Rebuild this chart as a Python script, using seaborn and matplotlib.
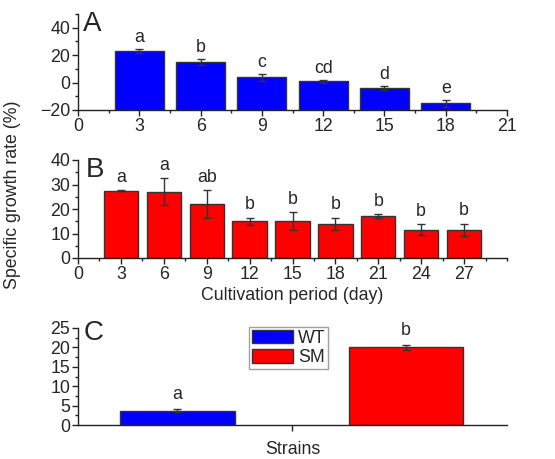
import matplotlib
matplotlib.use("Agg")
import matplotlib.pyplot as plt
from matplotlib.ticker import MultipleLocator
from matplotlib.patches import Patch
import seaborn as sns

# Panel A: wild type, specific growth rate over time
days_a = [3, 6, 9, 12, 15, 18]
rate_a = [23, 15, 4, 1, -4, -15]
err_a = [1.5, 2.5, 2.5, 1.0, 1.5, 2.5]
letters_a = ["a", "b", "c", "cd", "d", "e"]

# Panel B: mutant, specific growth rate over time
days_b = [3, 6, 9, 12, 15, 18, 21, 24, 27]
rate_b = [27.5, 27, 22, 15, 15, 14, 17, 11.5, 11.5]
err_b = [0.3, 5.5, 5.8, 1.5, 3.7, 2.5, 0.8, 2.3, 2.5]
letters_b = ["a", "a", "ab", "b", "b", "b", "b", "b", "b"]

# Panel C: strains compared
strains = ["WT", "SM"]
rate_c = [3.7, 20]
err_c = [0.4, 0.6]
letters_c = ["a", "b"]
strain_colors = ["#0000ff", "#ff0000"]

sns.set_style("ticks")
plt.rcParams['font.family'] = ['Liberation Sans', 'DejaVu Sans']
plt.rcParams['axes.linewidth'] = 1.0
plt.rcParams['axes.edgecolor'] = '#222222'

EDGE = '#333333'
FS = 12.8

fig = plt.figure(figsize=(5.55, 4.59), dpi=100)
W, H = 555, 459


def px_axes(left, top, right, bottom):
    return fig.add_axes([left / W, 1 - bottom / H, (right - left) / W, (bottom - top) / H])


def style_axis(ax):
    sns.despine(ax=ax)
    ax.tick_params(which='major', direction='out', length=4, width=1, labelsize=FS, pad=1.5, color='#222222')
    ax.tick_params(which='minor', direction='out', length=2.5, width=1, color='#222222')
    ax.set_xlabel('')
    ax.set_ylabel('')


def add_letters(ax, xs, vals, errs, letters, offset):
    for x, v, e, t in zip(xs, vals, errs, letters):
        ax.annotate(t, (x, v + e), xytext=(0, offset), textcoords='offset points',
                    ha='center', va='baseline', fontsize=FS)


# ---- A ----
ax_a = px_axes(78, 14, 507, 110)
sns.barplot(x=days_a, y=rate_a, native_scale=True, color='#0000ff', saturation=1,
            edgecolor=EDGE, linewidth=1, errorbar=None, ax=ax_a)
# bars are drawn up from the bottom of the axis (-20)
for p, v in zip(ax_a.patches, rate_a):
    p.set_y(-20)
    p.set_height(v + 20)
ax_a.errorbar(days_a, rate_a, yerr=err_a, fmt='none', ecolor=EDGE, elinewidth=1, capsize=3)
add_letters(ax_a, days_a, rate_a, err_a, letters_a, 5)
ax_a.set_xlim(0, 21)
ax_a.set_ylim(-20, 50)
ax_a.set_xticks(range(0, 22, 3))
ax_a.set_xticklabels([str(d) for d in range(0, 22, 3)])
ax_a.xaxis.set_minor_locator(MultipleLocator(1.5))
ax_a.set_yticks([-20, 0, 20, 40])
ax_a.yaxis.set_minor_locator(MultipleLocator(10))
style_axis(ax_a)
ax_a.text(0.012, 1.03, 'A', transform=ax_a.transAxes, fontsize=20, va='top', ha='left')

# ---- B ----
ax_b = px_axes(78, 160, 507, 258)
sns.barplot(x=days_b, y=rate_b, native_scale=True, color='#ff0000', saturation=1,
            edgecolor=EDGE, linewidth=1, errorbar=None, ax=ax_b)
ax_b.errorbar(days_b, rate_b, yerr=err_b, fmt='none', ecolor=EDGE, elinewidth=1, capsize=3)
add_letters(ax_b, days_b, rate_b, err_b, letters_b, 6)
ax_b.set_xlim(0, 30)
ax_b.set_ylim(0, 40)
ax_b.set_xticks(range(0, 28, 3))
ax_b.set_xticklabels([str(d) for d in range(0, 28, 3)])
ax_b.xaxis.set_minor_locator(MultipleLocator(1.5))
ax_b.set_yticks(range(0, 41, 10))
ax_b.yaxis.set_minor_locator(MultipleLocator(5))
style_axis(ax_b)
ax_b.set_xlabel('Cultivation period (day)', fontsize=FS, labelpad=3)
ax_b.text(0.017, 1.03, 'B', transform=ax_b.transAxes, fontsize=20, va='top', ha='left')

fig.text(0.022, 1 - 195 / H, 'Specific growth rate (%)', rotation=90,
         ha='center', va='center', fontsize=FS)

# ---- C ----
ax_c = px_axes(78, 328, 507, 425)
sns.barplot(x=strains, y=rate_c, hue=strains, palette=strain_colors, saturation=1,
            width=0.5, edgecolor=EDGE, linewidth=1, errorbar=None, legend=False, ax=ax_c)
ax_c.errorbar([0, 1], rate_c, yerr=err_c, fmt='none', ecolor=EDGE, elinewidth=1, capsize=3)
add_letters(ax_c, [0, 1], rate_c, err_c, letters_c, 7.5)
ax_c.set_xlim(-0.435, 1.442)
ax_c.set_ylim(0, 25)
ax_c.set_xticks([0.5])
ax_c.set_xticklabels([''])
ax_c.set_yticks(range(0, 26, 5))
ax_c.yaxis.set_minor_locator(MultipleLocator(2.5))
style_axis(ax_c)
ax_c.set_xlabel('Strains', fontsize=FS, labelpad=6)
ax_c.text(0.012, 1.08, 'C', transform=ax_c.transAxes, fontsize=20, va='top', ha='left')

handles = [Patch(facecolor=c, edgecolor=EDGE, linewidth=1, label=s)
           for c, s in zip(strain_colors, strains)]
ax_c.legend(handles=handles, loc='upper left', bbox_to_anchor=(0.399, 1.01),
            fontsize=FS, frameon=True, fancybox=False, edgecolor='#888888',
            borderpad=0.15, borderaxespad=0, handlelength=2.3, handleheight=0.8,
            handletextpad=0.3, labelspacing=0.15)

fig.savefig('out.png', dpi=100)
